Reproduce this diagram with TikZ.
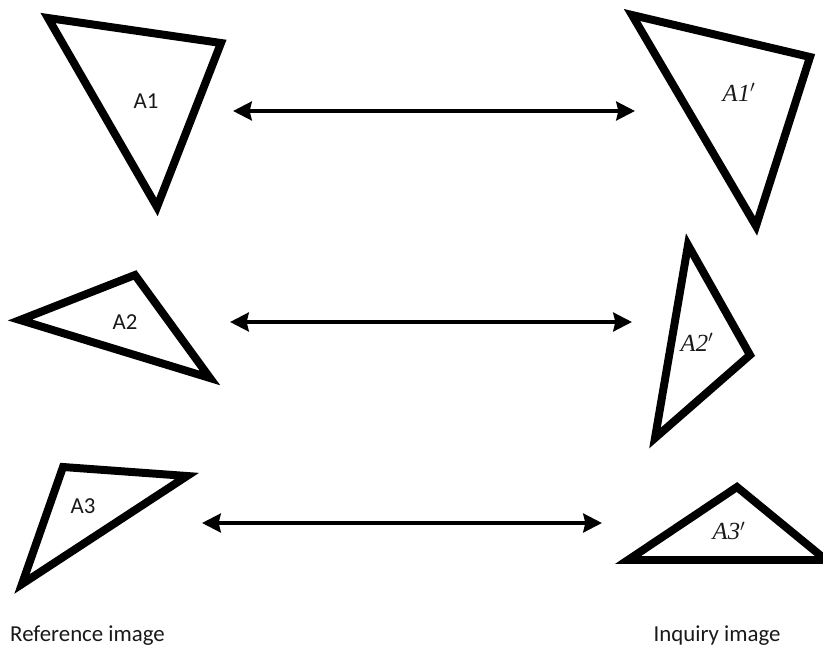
\documentclass[tikz,border=0pt]{standalone}
\usepackage{fontspec}
\setmainfont{Carlito}
\newfontfamily\primefont{Liberation Serif}
\usetikzlibrary{arrows.meta}

\begin{document}
\begin{tikzpicture}[x=0.03cm, y=-0.03cm,
  font=\fontsize{19.5}{22}\selectfont, >={Stealth[length=5.6mm,width=5.6mm,inset=0.6mm]},
  tri/.style={draw, line width=6.8pt, line join=miter},
  link/.style={<->, line width=3.4pt},
  lbl/.style={inner sep=0pt, text=black!90},
  plbl/.style={lbl, font=\fontsize{21}{24}\selectfont\primefont\itshape}]
  \useasboundingbox (0,0) rectangle (823,651);

  % reference side
  \draw[tri] (48,18) -- (221,43) -- (157,207) -- cycle;
  \draw[tri] (20,320) -- (135,275) -- (210,378) -- cycle;
  \draw[tri] (63,467) -- (187,476) -- (22,584) -- cycle;
  \node[lbl] (a1) at (146,101) {A1};
  \node[lbl] (a2) at (125,322) {A2};
  \node[lbl] (a3) at (83,506)  {A3};

  % inquiry side
  \draw[tri] (632,15) -- (810,57) -- (756,226) -- cycle;
  \draw[tri] (688,245) -- (750,355) -- (655,438) -- cycle;
  \draw[tri] (628,560) -- (737,487) -- (826,560) -- cycle;
  \node[plbl] (b1) at (739,92)  {A1$^{\prime}$};
  \node[plbl] (b2) at (697,342) {A2$^{\prime}$};
  \node[plbl] (b3) at (729,531) {A3$^{\prime}$};

  % matches
  \coordinate (l1) at (233,111); \coordinate (r1) at (635,111);
  \coordinate (l2) at (230,322); \coordinate (r2) at (632,322);
  \coordinate (l3) at (202,523); \coordinate (r3) at (602,523);
  \draw[link] (l1) -- (r1);
  \draw[link] (l2) -- (r2);
  \draw[link] (l3) -- (r3);

  \node[lbl, anchor=west] (ref) at (10,636) {Reference image};
  \node[lbl] (inq) at (717,636) {Inquiry image};
\end{tikzpicture}
\end{document}
